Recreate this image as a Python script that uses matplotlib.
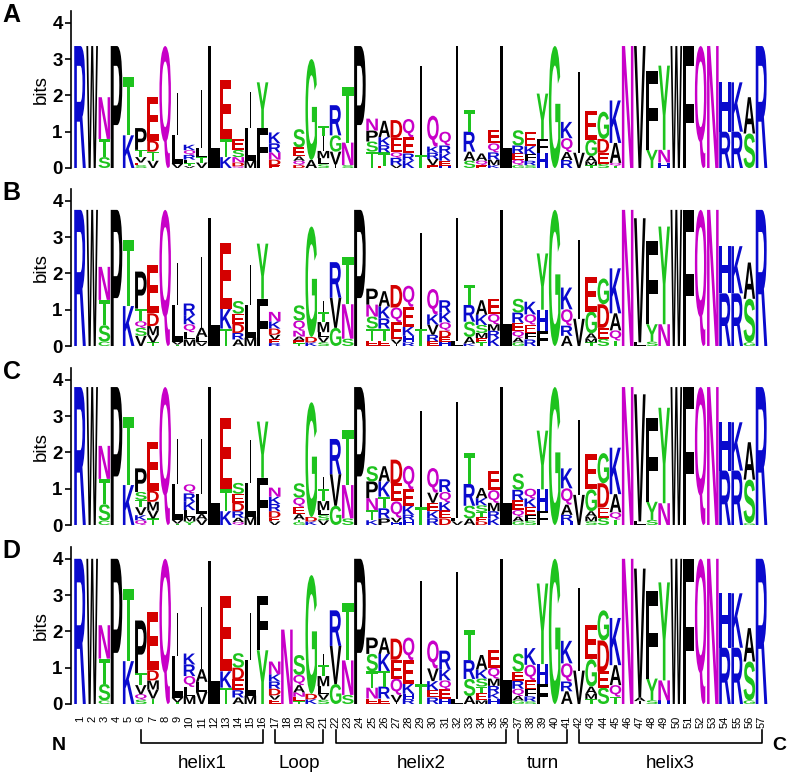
import matplotlib
matplotlib.use('Agg')
import matplotlib.pyplot as plt
from matplotlib.textpath import TextPath
from matplotlib.font_manager import FontProperties
from matplotlib.patches import PathPatch
from matplotlib.lines import Line2D
from matplotlib.transforms import Affine2D, blended_transform_factory

plt.rcParams['font.family'] = ['Liberation Sans', 'DejaVu Sans']

# ---------------- data ----------------
positions = list(range(1, 58))
panel_labels = ['A', 'B', 'C', 'D']
yticks = [0, 1, 2, 3, 4]
max_bits = 4.32

# each stack: letters from bottom to top with their heights in bits
logo_A = [
    "R3.36", "W3.36", "S0.30 T0.50 N1.15", "P3.36", "K0.90 T1.60",
    "S0.08 E0.07 V0.15 T0.20 P0.60", "V0.20 T0.25 D0.30 E1.20", "Q3.36",
    "V0.12 L0.80 I1.15", "V0.05 T0.08 L0.10 R0.13 Q0.13 K0.15",
    "V0.15 T0.15 L0.25 I1.60", "L3.36", "K0.30 T0.50 E1.63",
    "Q0.05 D0.10 N0.15 S0.20 E0.30", "M0.20 L0.90 I1.00", "F1.10 Y1.26",
    "E0.08 D0.15 N0.20 R0.25 K0.30", "", "D0.08 Q0.12 A0.12 E0.25 S0.50",
    "A0.22 G2.78", "S0.10 L0.17 M0.20 I0.40 T0.28", "I0.10 V0.35 G0.45 R0.83",
    "S0.08 N0.62 T1.53", "P3.36", "T0.45 S0.28 P0.30 N0.33",
    "E0.05 T0.38 R0.20 K0.22 A0.45", "V0.08 R0.20 Q0.15 E0.40 D0.49",
    "K0.20 R0.20 E0.45 Q0.50", "T0.35 I2.47", "E0.08 V0.17 R0.17 K0.17 Q0.85",
    "H0.06 E0.14 K0.20 R0.22 Q0.38", "I3.36", "S0.20 A0.25 R0.55 T0.59",
    "E0.08 Q0.12 A0.20", "K0.08 M0.15 R0.20 Q0.25 E0.37", "L3.36",
    "G0.08 Q0.15 E0.17 R0.22 S0.42", "S0.08 R0.12 F0.18 K0.22 E0.40",
    "H0.40 F0.40 Y1.25", "G3.36", "R0.22 A0.22 Q0.38 K0.45", "V0.42 I2.22",
    "T0.08 M0.10 A0.15 G0.45 E0.80", "S0.12 E0.30 D0.38 G0.75",
    "T0.06 Q0.08 A0.55 K1.17", "N3.36", "V3.36", "Y0.50 F2.18",
    "H0.15 N0.35 Y2.32", "W3.36", "F3.36", "Q3.36", "N3.36", "R1.00 H1.36",
    "R1.00 K1.36", "S0.95 A1.00", "R3.36",
]
logo_B = [
    "R3.75", "W3.75", "C0.12 S0.45 T0.70 N0.91", "P3.75", "K1.10 T1.82",
    "V0.28 S0.22 Q0.18 T0.35 P1.02", "T0.10 V0.20 M0.25 D0.35 E1.33", "Q3.75",
    "T0.04 V0.08 L1.00 I1.16", "M0.18 L0.20 Q0.22 K0.25 R0.32",
    "V0.10 L0.15 A0.25 I1.96", "L3.52", "T0.48 K0.55 E1.80",
    "A0.18 R0.18 D0.25 E0.28 S0.35", "M0.23 L0.89 I1.10", "F1.30 Y1.52",
    "R0.08 E0.10 V0.13 D0.17 K0.20 N0.26", "",
    "T0.08 E0.08 A0.10 N0.16 Q0.28 S0.42", "K0.10 D0.15 G3.04",
    "S0.10 V0.14 L0.14 M0.28 T0.28 I0.30", "G0.50 V0.83 R0.98",
    "S0.20 N0.95 T1.30", "P3.75", "E0.15 T0.33 S0.33 N0.33 P0.44",
    "E0.15 T0.33 R0.28 K0.33 A0.42", "I0.06 V0.12 E0.48 Q0.40 D0.62",
    "R0.10 H0.18 K0.25 E0.55 Q0.58", "T0.48 I2.62",
    "E0.13 R0.18 V0.28 K0.28 Q0.70", "H0.12 E0.12 D0.18 Q0.23 K0.28 R0.33",
    "L0.15 I3.37", "K0.07 A0.18 S0.42 R0.46 T0.55",
    "T0.10 E0.12 M0.14 S0.22 K0.28 A0.40", "K0.22 R0.20 M0.18 Q0.28 E0.42",
    "L3.75", "G0.10 A0.13 Q0.18 E0.23 R0.28 S0.38",
    "R0.18 F0.18 E0.23 Q0.28 K0.35", "F0.40 H0.60 Y1.55", "G3.75",
    "A0.28 R0.28 Q0.45 K0.60", "V0.75 I2.16", "T0.10 M0.10 A0.15 G0.60 E0.95",
    "S0.20 E0.30 D0.65 G0.71", "T0.15 Q0.28 A0.47 K1.24", "N3.75",
    "L0.10 V3.42", "S0.12 Y0.48 F2.28", "N0.60 Y2.69", "W3.75", "F3.75",
    "Q3.75", "N3.75", "R1.45 H1.30", "R1.45 K1.30", "G0.10 S1.20 A1.00",
    "R3.75",
]
logo_C = [
    "R3.80", "W3.80", "C0.12 S0.45 T0.70 N0.91", "P3.80", "K1.10 T1.87",
    "Q0.13 K0.14 V0.22 T0.20 S0.22 P0.65", "T0.18 V0.22 M0.24 D0.30 E1.36",
    "Q3.80", "T0.04 V0.10 L0.98 I1.25", "Y0.10 M0.13 L0.18 K0.23 R0.23 Q0.25",
    "V0.15 A0.15 L0.55 I1.52", "L3.80", "K0.38 T0.60 E1.98",
    "Q0.08 A0.12 R0.18 D0.23 E0.25 S0.30", "M0.23 L0.92 I1.20", "F1.30 Y1.55",
    "V0.10 E0.10 D0.18 R0.20 K0.20 N0.25", "",
    "G0.08 T0.07 A0.15 E0.20 Q0.25 S0.40", "K0.10 D0.12 G3.16",
    "V0.13 S0.14 L0.14 M0.25 T0.33 I0.33", "G0.53 V0.87 R0.97",
    "S0.18 N0.92 T1.53", "P3.80", "K0.13 T0.28 N0.33 P0.46 S0.42",
    "P0.18 R0.28 T0.32 K0.42 A0.42", "H0.07 V0.13 Q0.45 E0.50 D0.65",
    "H0.14 R0.14 K0.25 E0.45 Q0.65", "T0.50 I2.65",
    "R0.18 K0.20 E0.23 V0.28 Q0.68", "D0.18 E0.22 K0.23 Q0.28 R0.35",
    "V0.10 L0.10 I3.18", "A0.18 S0.35 R0.60 T0.85",
    "D0.10 E0.12 T0.14 S0.18 K0.20 A0.28", "K0.18 R0.20 M0.23 Q0.35 E0.52",
    "L3.80", "G0.10 A0.13 Q0.18 E0.28 R0.28 S0.45",
    "S0.12 F0.15 E0.23 K0.23 Q0.27", "F0.38 H0.60 Y1.62", "G3.80",
    "H0.10 R0.18 A0.28 Q0.45 K0.55", "V0.83 I2.07",
    "S0.10 M0.13 A0.15 G0.60 E0.97", "S0.20 E0.28 D0.67 G0.83",
    "T0.15 Q0.20 A0.50 K1.28", "N3.80", "L0.10 V3.50", "S0.14 Y0.50 F2.32",
    "N0.60 Y2.63", "W3.80", "F3.80", "Q3.80", "N3.80", "R1.50 H1.33",
    "R1.50 K1.33", "G0.05 S1.20 A1.03", "R3.80",
]
logo_D = [
    "R4.00", "W4.00", "C0.10 S0.45 T0.70 N0.92", "P4.00", "K1.18 T2.00",
    "S0.12 Q0.15 V0.25 T0.33 P1.45", "T0.15 V0.25 M0.25 D0.28 E1.60", "Q4.00",
    "T0.05 V0.12 L1.15 I1.20", "M0.22 L0.25 Q0.30 R0.32 K0.30",
    "V0.33 L0.28 A0.35 I1.72", "L3.93", "T0.45 K0.45 E2.07",
    "A0.18 R0.20 E0.30 D0.32 S0.40", "M0.23 L0.97 I1.30", "Y1.48 F1.50",
    "E0.12 V0.12 D0.18 R0.20 K0.20 N0.35", "N2.05",
    "T0.08 E0.12 N0.12 A0.20 Q0.28 S0.55", "K0.13 D0.15 G3.27",
    "S0.12 V0.15 L0.22 M0.28 T0.30 I0.30", "G0.55 V1.05 R0.98",
    "S0.25 N0.95 T1.58", "P4.00", "E0.15 N0.30 T0.45 S0.48 P0.45",
    "E0.15 R0.33 T0.43 K0.47 A0.45", "I0.05 V0.20 Q0.45 E0.52 D0.58",
    "R0.14 H0.14 K0.28 E0.65 Q0.62", "T0.55 I2.83",
    "R0.18 E0.20 K0.25 V0.35 Q0.77", "H0.15 E0.25 Q0.25 K0.30 R0.52",
    "L0.15 I3.50", "A0.22 S0.47 R0.52 T0.83",
    "M0.10 E0.20 T0.18 S0.22 K0.25 A0.40",
    "H0.15 K0.15 R0.20 M0.20 Q0.30 E0.48", "L4.00",
    "G0.10 A0.12 Q0.20 R0.22 E0.25 S0.50",
    "S0.07 R0.14 F0.20 E0.25 Q0.42 K0.46", "F0.55 H0.55 Y2.22", "G4.00",
    "A0.35 R0.27 Q0.50 K0.62", "V0.92 I2.28",
    "T0.14 M0.14 A0.20 G0.75 E0.95", "S0.45 E0.45 D0.85 G0.83",
    "T0.20 Q0.32 A0.55 K1.30", "N4.00", "I0.08 A0.10 V3.55",
    "S0.10 Y0.60 F2.40", "H0.10 N0.55 Y2.70", "W4.00", "F4.00", "Q4.00",
    "N4.00", "R1.55 H1.50", "R1.55 K1.50", "G0.10 S1.07 A0.92", "R4.00",
]
logos = [logo_A, logo_B, logo_C, logo_D]

region_names = ['helix1', 'Loop', 'helix2', 'turn', 'helix3']
region_start = [6, 17, 22, 37, 42]
region_end = [16, 21, 36, 41, 57]

# chemistry colour scheme
colors = {}
for aa in 'GSTYC':
    colors[aa] = '#1ec31e'
for aa in 'NQ':
    colors[aa] = '#c800c8'
for aa in 'KRH':
    colors[aa] = '#0a0acd'
for aa in 'DE':
    colors[aa] = '#d40000'
for aa in 'AVLIPWFM':
    colors[aa] = '#000000'


def parse(stack):
    return [(tok[0], float(tok[1:])) for tok in stack.split()]


fp = FontProperties(family='Liberation Sans', weight='bold')
glyphs = {}


def glyph(letter):
    if letter not in glyphs:
        p = TextPath((0, 0), letter, size=1, prop=fp)
        glyphs[letter] = (p, p.get_extents())
    return glyphs[letter]


def draw_letter(ax, letter, xc, y0, h):
    if h <= 0:
        return
    p, ext = glyph(letter)
    w = 0.13 if letter == 'I' else 0.95
    tr = (Affine2D().translate(-ext.x0, -ext.y0)
          .scale(w / ext.width, h / ext.height)
          .translate(xc - w / 2, y0))
    patch = PathPatch(tr.transform_path(p), facecolor=colors[letter],
                      edgecolor='none', lw=0)
    ax.add_patch(patch)


# ---------------- figure ----------------
W, H = 787, 775
fig = plt.figure(figsize=(W / 100, H / 100), dpi=100)

bottoms_px = [168, 346, 525, 704]
ax_left_px, ax_w_px = 71, 696.6
ax_h_px = max_bits * 36.3

axes = []
for k, (lab, logo) in enumerate(zip(panel_labels, logos)):
    b = bottoms_px[k]
    ax = fig.add_axes([ax_left_px / W, 1 - b / H, ax_w_px / W, ax_h_px / H])
    ax.set_xlim(0.26, 57.5)
    ax.set_ylim(0, max_bits)
    for s in ['top', 'right', 'bottom']:
        ax.spines[s].set_visible(False)
    ax.spines['left'].set_linewidth(1.2)
    ax.set_xticks([])
    ax.set_yticks(yticks)
    ax.set_yticklabels([str(t) for t in yticks], fontsize=13.5, fontweight='bold')
    ax.tick_params(axis='y', direction='out', length=4.5, width=1.2, pad=1.5)
    for pos, stack in zip(positions, logo):
        y = 0.0
        for letter, h in parse(stack):
            draw_letter(ax, letter, pos, y, h)
            y += h
    fig.text(11.5 / W, 1 - (b - 153) / H, lab, fontsize=18, fontweight='bold',
             ha='center', va='center')
    fig.text(41.5 / W, 1 - (b - ax_h_px / 2) / H, 'bits', rotation=90,
             fontsize=13.5, ha='center', va='center')
    axes.append(ax)

axD = axes[-1]
trans = blended_transform_factory(axD.transData, fig.transFigure)

for pos in positions:
    fig.text(pos, 1 - 716 / H, str(pos), rotation=90, ha='center', va='top',
             fontsize=8, transform=trans)

y_line = 1 - 743 / H
y_tick = 1 - 730 / H
for name, s, e in zip(region_names, region_start, region_end):
    fig.add_artist(Line2D([s, s, e, e], [y_tick, y_line, y_line, y_tick],
                          transform=trans, color='black', lw=1.2))
    fig.text((s + e) / 2, 1 - 763 / H, name, transform=trans, ha='center',
             va='center', fontsize=13.5)

fig.text(59 / W, 1 - 746 / H, 'N', fontsize=14, fontweight='bold',
         ha='center', va='center')
fig.text(779 / W, 1 - 746 / H, 'C', fontsize=14, fontweight='bold',
         ha='center', va='center')

fig.savefig('out.png', dpi=100)
